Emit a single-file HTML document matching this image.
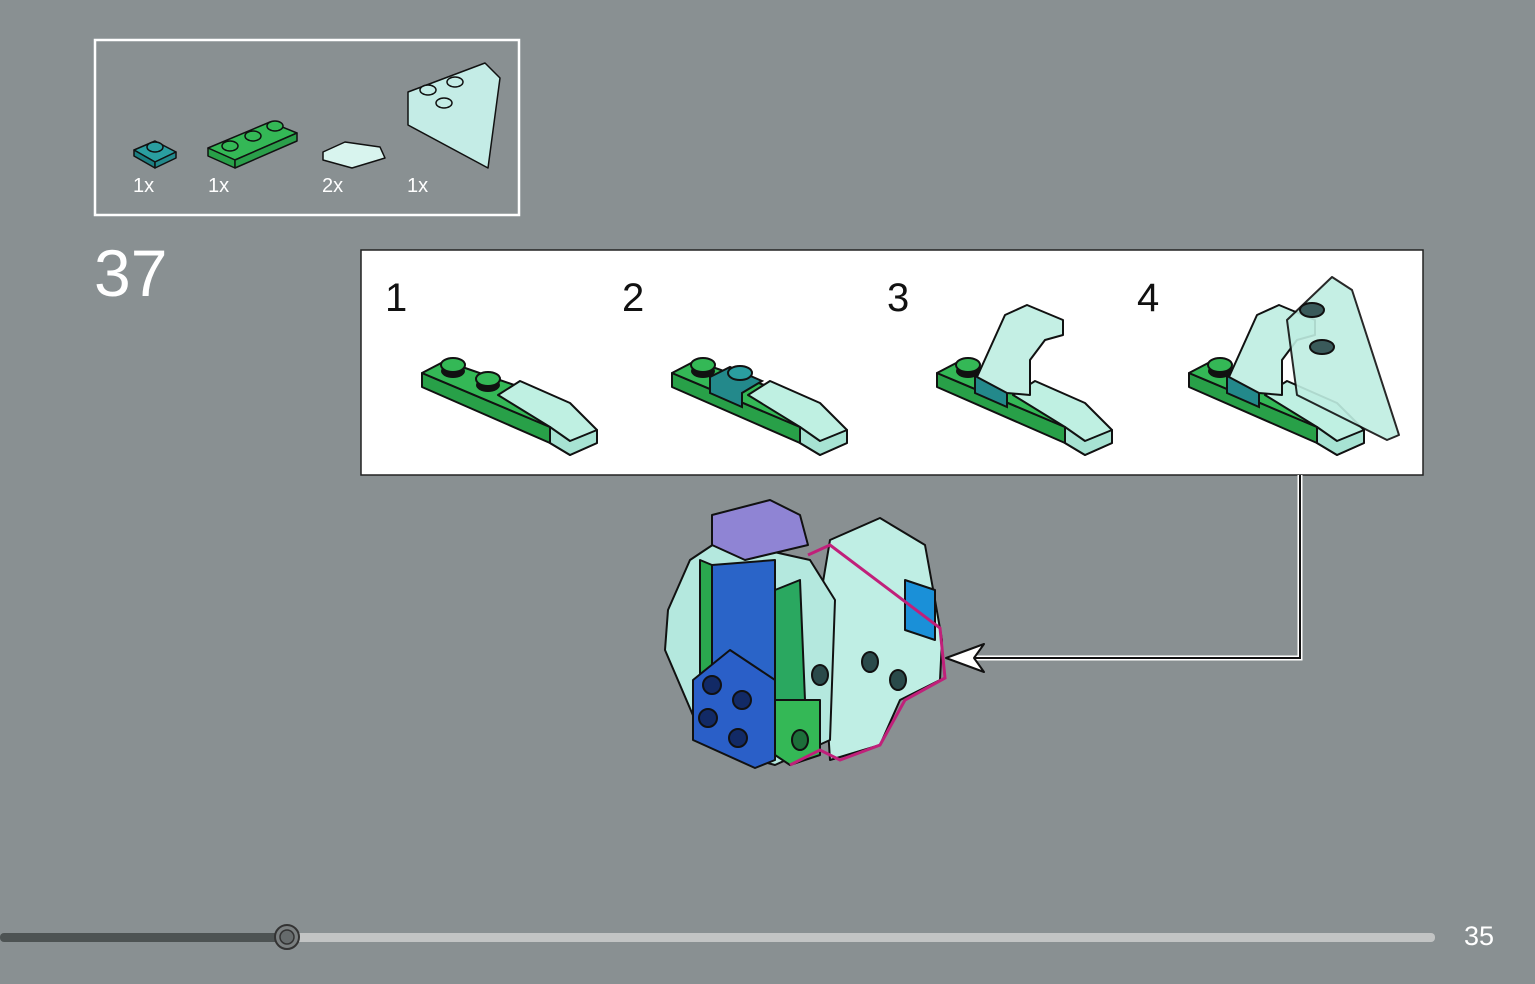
<!DOCTYPE html>
<html><head><meta charset="utf-8"><style>
html,body{margin:0;padding:0;background:#899092;width:1535px;height:984px;overflow:hidden;font-family:"Liberation Sans",sans-serif;}
</style></head><body>
<svg width="1535" height="984" viewBox="0 0 1535 984" xmlns="http://www.w3.org/2000/svg" style="position:absolute;left:0;top:0">
<defs>
<g id="base" stroke="#111" stroke-width="2" stroke-linejoin="round">
  <polygon points="2,18 2,32 130,88 130,72" fill="#28a048"/>
  <polygon points="2,18 25,6 100,32 130,72" fill="#34b856"/>
  <polygon points="78,40 100,26 150,48 177,75 177,88 150,100 130,88 130,72" fill="#bff0e2"/>
  <polygon points="130,72 150,86 177,75 177,88 150,100 130,88" fill="#a7e3d3"/>
</g>
<g id="stud">
  <ellipse cx="0" cy="6" rx="12" ry="7" fill="#111"/>
  <ellipse cx="0" cy="0" rx="12" ry="7" fill="#34b856" stroke="#111" stroke-width="2"/>
</g>
</defs>

<!-- parts box -->
<rect x="95" y="40" width="424" height="175" fill="none" stroke="#fff" stroke-width="2.5"/>
<g stroke="#111" stroke-width="1.5" stroke-linejoin="round">
  <polygon points="134,150 155,141 176,152 155,162" fill="#2a9ea0"/><polygon points="134,150 134,156 155,168 155,162" fill="#1c7f82"/><polygon points="155,162 176,152 176,158 155,168" fill="#23898b"/>
  <ellipse cx="155" cy="147" rx="8" ry="5" fill="#2a9ea0"/>
  <polygon points="208,148 270,122 297,133 235,160" fill="#34b856"/><polygon points="208,148 208,156 235,168 235,160" fill="#28a048"/><polygon points="235,160 297,133 297,141 235,168" fill="#2a9f4a"/>
  <ellipse cx="230" cy="146" rx="8" ry="5" fill="#34b856"/><ellipse cx="253" cy="136" rx="8" ry="5" fill="#34b856"/><ellipse cx="275" cy="126" rx="8" ry="5" fill="#34b856"/>
  <polygon points="323,152 345,142 380,147 385,158 352,168 323,160" fill="#d8f4ee"/>
  <polygon points="408,92 485,63 500,78 488,168 408,125" fill="#c4ece6"/>
  <ellipse cx="428" cy="90" rx="8" ry="5" fill="#c4ece6"/><ellipse cx="455" cy="82" rx="8" ry="5" fill="#c4ece6"/><ellipse cx="444" cy="103" rx="8" ry="5" fill="#c4ece6"/>
</g>
<g fill="#fff" font-size="20"><text x="133" y="192">1x</text><text x="208" y="192">1x</text><text x="322" y="192">2x</text><text x="407" y="192">1x</text></g>
<text x="94" y="296" fill="#fff" font-size="66" font-weight="300">37</text>

<!-- steps box -->
<rect x="361" y="250" width="1062" height="225" fill="#fff" stroke="#222" stroke-width="1.5"/>
<g fill="#111" font-size="40"><text x="385" y="311">1</text><text x="622" y="311">2</text><text x="887" y="311">3</text><text x="1137" y="311">4</text></g>

<g transform="translate(420,355)"><use href="#base"/><use href="#stud" x="33" y="10"/><use href="#stud" x="68" y="24"/></g>
<g transform="translate(670,355)"><use href="#base"/><use href="#stud" x="33" y="10"/>
  <polygon points="40,22 60,12 92,26 72,38 72,52 40,38" fill="#23898b" stroke="#111" stroke-width="2"/><ellipse cx="70" cy="18" rx="12" ry="7" fill="#2a9ea0" stroke="#111" stroke-width="2"/></g>
<g transform="translate(935,355)"><use href="#base"/><use href="#stud" x="33" y="10"/>
  <polygon points="40,22 60,12 92,26 72,38 72,52 40,38" fill="#23898b" stroke="#111" stroke-width="2"/>
  <polygon points="42,22 70,-40 92,-50 128,-35 128,-20 110,-15 95,5 95,40 72,38" fill="#c4efe4" stroke="#111" stroke-width="2" stroke-linejoin="round"/></g>
<g transform="translate(1187,355)"><use href="#base"/><use href="#stud" x="33" y="10"/>
  <polygon points="40,22 60,12 92,26 72,38 72,52 40,38" fill="#23898b" stroke="#111" stroke-width="2"/>
  <polygon points="42,22 70,-40 92,-50 128,-35 128,-20 110,-15 95,5 95,40 72,38" fill="#c4efe4" stroke="#111" stroke-width="2" stroke-linejoin="round"/>
  <polygon points="100,-35 145,-78 165,-65 212,80 200,85 110,40" fill="#bfeee2" stroke="#111" stroke-width="2" stroke-linejoin="round" opacity="0.9"/>
  <ellipse cx="125" cy="-45" rx="12" ry="7" fill="#3a5a5a" stroke="#111" stroke-width="2"/><ellipse cx="135" cy="-8" rx="12" ry="7" fill="#3a5a5a" stroke="#111" stroke-width="2"/></g>

<!-- connector -->
<polyline points="1300,475 1300,658 970,658" fill="none" stroke="#fff" stroke-width="5"/>
<polyline points="1300,475 1300,658 970,658" fill="none" stroke="#111" stroke-width="2"/>
<polygon points="946,658 984,644 974,658 984,672" fill="#fff" stroke="#111" stroke-width="2" stroke-linejoin="round"/>

<!-- main model -->
<g stroke="#111" stroke-width="2" stroke-linejoin="round">
  <polygon points="830,540 880,518 925,545 935,600 942,640 940,680 900,700 880,745 830,760 820,600" fill="#bfeee4"/>
  <polygon points="905,580 935,590 935,640 905,630" fill="#1a90d8"/>
  <polygon points="690,560 720,540 810,560 835,600 830,740 775,765 720,750 695,720 665,650 668,610" fill="#b4e8de"/>
  <polygon points="712,515 770,500 800,515 808,545 745,560 712,545" fill="#8f84d4"/>
  <polygon points="712,565 775,560 775,680 712,680" fill="#2a64c8"/>
  <polygon points="700,560 712,565 712,680 700,680" fill="#2aa84e"/>
  <polygon points="775,590 800,580 805,700 775,700" fill="#2aa860"/>
  <polygon points="775,700 820,700 820,755 790,765 775,755" fill="#34b856"/>
  <polygon points="693,680 730,650 775,680 775,760 755,768 693,740" fill="#2a5fc8"/>
  <ellipse cx="712" cy="685" rx="9" ry="9" fill="#122a66"/><ellipse cx="742" cy="700" rx="9" ry="9" fill="#122a66"/><ellipse cx="708" cy="718" rx="9" ry="9" fill="#122a66"/><ellipse cx="738" cy="738" rx="9" ry="9" fill="#122a66"/>
  <ellipse cx="820" cy="675" rx="8" ry="10" fill="#2a4a4a"/><ellipse cx="870" cy="662" rx="8" ry="10" fill="#2a4a4a"/><ellipse cx="898" cy="680" rx="8" ry="10" fill="#2a4a4a"/><ellipse cx="800" cy="740" rx="8" ry="10" fill="#1d6f3a"/>
</g>
<polyline points="808,555 830,545 940,628 945,678 905,700 880,745 840,760 820,750 790,765" fill="none" stroke="#c0207a" stroke-width="3"/>

<!-- progress -->
<rect x="0" y="933" width="290" height="9" rx="4" fill="#4d5353"/>
<rect x="287" y="933" width="1148" height="9" rx="4" fill="#c2c4c4"/>
<circle cx="287" cy="937" r="12" fill="#7a7f80" stroke="#333" stroke-width="2"/>
<circle cx="287" cy="937" r="7" fill="#666b6c" stroke="#333" stroke-width="1.5"/>
<text x="1464" y="945" fill="#fff" font-size="27">35</text>
</svg>
</body></html>
